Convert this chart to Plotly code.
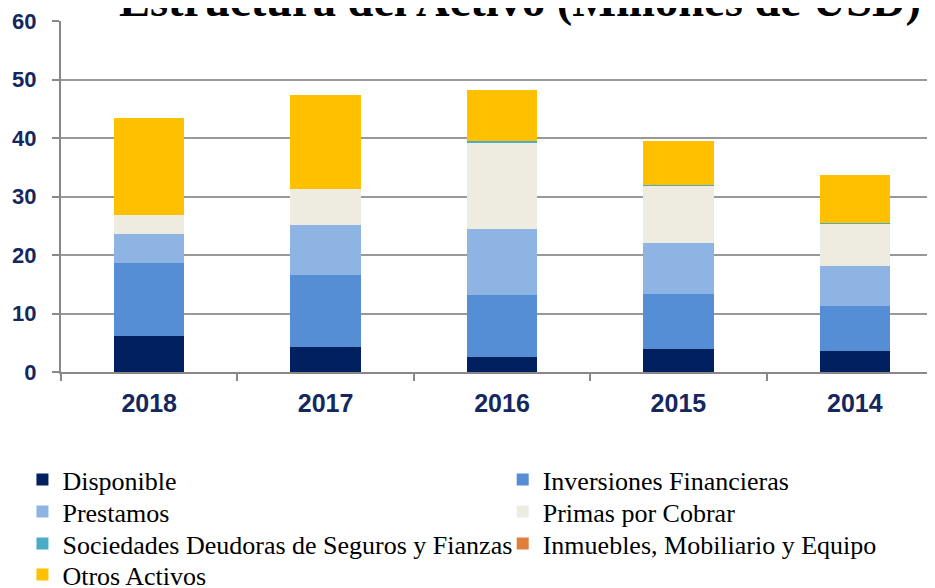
import plotly.graph_objects as go

years = ["2018", "2017", "2016", "2015", "2014"]
disponible = [6.1, 4.35, 2.65, 4.0, 3.6]
inversiones = [12.5, 12.2, 10.5, 9.3, 7.7]
prestamos = [5.0, 8.5, 11.25, 8.75, 6.8]
primas = [3.3, 6.3, 14.9, 9.75, 7.25]
sociedades = [0.0, 0.0, 0.15, 0.2, 0.15]
inmuebles = [0.0, 0.0, 0.0, 0.0, 0.0]
otros = [16.5, 16.0, 8.8, 7.45, 8.1]

series = [
    ("Disponible", disponible, "#002060"),
    ("Inversiones Financieras", inversiones, "#558ED5"),
    ("Prestamos", prestamos, "#8EB4E3"),
    ("Primas por Cobrar", primas, "#EEECE1"),
    ("Sociedades Deudoras de Seguros y Fianzas", sociedades, "#4BACC6"),
    ("Inmuebles, Mobiliario y Equipo", inmuebles, "#E07E3C"),
    ("Otros Activos", otros, "#FFC000"),
]

# legend slot (column x, row y) for each series, in paper coordinates
col_x = [-0.0437, 0.5008]
row_y = [-0.3068, -0.3980, -0.4892, -0.5775]

fig = go.Figure()
legend_layout = {}
for i, (name, vals, color) in enumerate(series):
    key = "legend" if i == 0 else f"legend{i + 1}"
    fig.add_trace(go.Bar(
        name=name, x=years, y=vals,
        marker=dict(color=color, line=dict(width=0)),
        width=0.40,
        legend=key,
    ))
    legend_layout[key] = dict(
        x=col_x[i % 2], xanchor="left",
        y=row_y[i // 2], yanchor="middle",
        font=dict(family="Liberation Serif", size=26, color="black"),
        bgcolor="rgba(0,0,0,0)",
        itemwidth=30,
    )

tick_color = "#14275E"
fig.update_layout(
    barmode="stack",
    width=935, height=588,
    margin=dict(l=53, r=0, t=13, b=224, autoexpand=False),
    paper_bgcolor="white", plot_bgcolor="white",
    showlegend=True,
    xaxis=dict(
        type="category",
        range=[-0.5, 4.5],
        tickson="boundaries",
        ticks="outside", ticklen=7, tickcolor="#888888", tickwidth=2,
        showline=True, linecolor="#888888", linewidth=2,
        showgrid=False,
        ticklabelstandoff=8,
        tickfont=dict(family="Liberation Sans", size=25, color=tick_color, weight="bold"),
    ),
    yaxis=dict(
        range=[0, 60], dtick=10,
        ticks="outside", ticklen=7, tickcolor="#888888", tickwidth=2,
        showline=True, linecolor="#888888", linewidth=2,
        showgrid=True, gridcolor="#999999", gridwidth=2,
        ticklabelstandoff=11,
        tickfont=dict(family="Liberation Sans", size=22, color=tick_color, weight="bold"),
        zeroline=False,
    ),
    annotations=[dict(
        text="<b>Estructura del Activo (Millones de USD)</b>",
        font=dict(family="Liberation Serif", size=46.5, color="black"),
        xref="paper", yref="paper", x=0.5204, xanchor="center",
        y=0.980, yanchor="bottom", showarrow=False,
    )],
    **legend_layout,
)

fig.write_html("out.html")
